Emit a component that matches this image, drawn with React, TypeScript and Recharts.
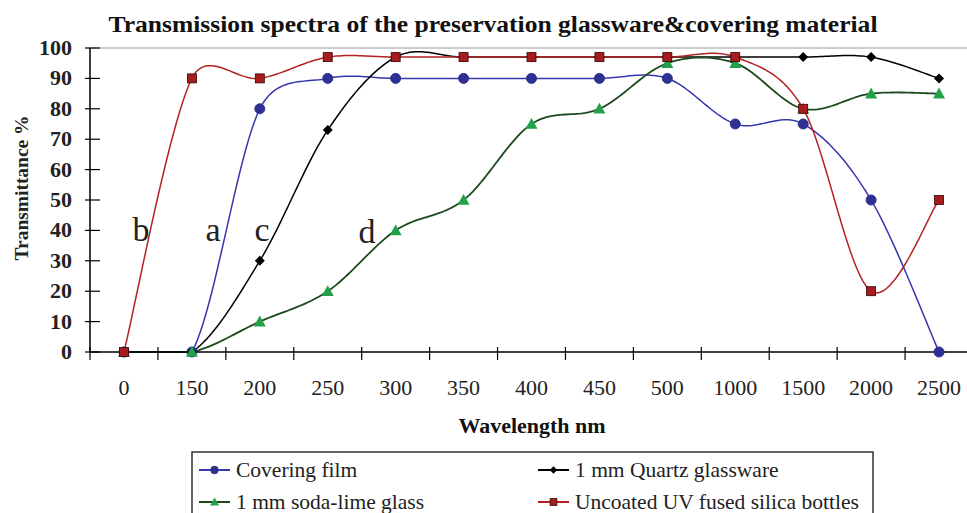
import React from 'react';
import { LineChart, Line, XAxis, YAxis, ReferenceLine } from 'recharts';

const wavelengths = ['0', '150', '200', '250', '300', '350', '400', '450', '500', '1000', '1500', '2000', '2500'];
const coveringFilm = [0, 0, 80, 90, 90, 90, 90, 90, 90, 75, 75, 50, 0];
const quartzGlass = [0, 0, 30, 73, 97, 97, 97, 97, 97, 97, 97, 97, 90];
const sodaLimeGlass = [0, 0, 10, 20, 40, 50, 75, 80, 95, 95, 80, 85, 85];
const silicaBottles = [0, 90, 90, 97, 97, 97, 97, 97, 97, 97, 80, 20, 50];
const yTicks = [0, 10, 20, 30, 40, 50, 60, 70, 80, 90, 100];

const curveLabels = [
  { text: 'b', x: 141, y: 241 },
  { text: 'a', x: 213, y: 241 },
  { text: 'c', x: 262, y: 241 },
  { text: 'd', x: 367, y: 243 },
];

const data = wavelengths.map((wl, i) => ({
  wl,
  film: coveringFilm[i],
  quartz: quartzGlass[i],
  soda: sodaLimeGlass[i],
  silica: silicaBottles[i],
}));

const SERIF = "'Liberation Serif', 'Times New Roman', serif";
const CHART_W = 973;
const CHART_H = 513;
const PLOT_LEFT = 90;
const PLOT_TOP = 48;
const PLOT_BOTTOM = 352;
const HALF_BAND = (CHART_W - PLOT_LEFT) / (2 * wavelengths.length);

const COLORS = {
  film: { line: '#3636B0', fill: '#2E3192' },
  quartz: { line: '#000000', fill: '#000000' },
  soda: { line: '#1C4A1C', fill: '#22A14A' },
  silica: { line: '#B22222', fill: '#A51D1D' },
};

const dist = (a: number[], b: number[]) => Math.hypot(a[0] - b[0], a[1] - b[1]);

// Excel-style smoothed line: Catmull-Rom bezier, control arm capped at half the
// segment length, and clipped to the plot area like Excel does
function excelSmooth(context: any) {
  let pts: [number, number][] = [];
  const clampY = (y: number) => Math.min(PLOT_BOTTOM, Math.max(PLOT_TOP, y));
  return {
    areaStart() {},
    areaEnd() {},
    lineStart() {
      pts = [];
    },
    point(x: number, y: number) {
      pts.push([+x, +y]);
    },
    lineEnd() {
      if (!pts.length) return;
      context.moveTo(pts[0][0], clampY(pts[0][1]));
      for (let i = 0; i < pts.length - 1; i++) {
        const p0 = pts[i - 1] || pts[i];
        const p1 = pts[i];
        const p2 = pts[i + 1];
        const p3 = pts[i + 2] || p2;
        const d12 = dist(p1, p2);
        const d02 = dist(p0, p2);
        const d13 = dist(p1, p3);
        const f0 = d02 / 6 < d12 / 2 ? 1 / 6 : d12 / (2 * d02);
        const f1 = d13 / 6 < d12 / 2 ? 1 / 6 : d12 / (2 * d13);
        const c1 = [p1[0] + (p2[0] - p0[0]) * f0, p1[1] + (p2[1] - p0[1]) * f0];
        const c2 = [p2[0] - (p3[0] - p1[0]) * f1, p2[1] - (p3[1] - p1[1]) * f1];
        const steps = 24;
        for (let k = 1; k <= steps; k++) {
          const t = k / steps;
          const u = 1 - t;
          const a = u * u * u;
          const b = 3 * u * u * t;
          const c = 3 * u * t * t;
          const d = t * t * t;
          const x = a * p1[0] + b * c1[0] + c * c2[0] + d * p2[0];
          const y = a * p1[1] + b * c1[1] + c * c2[1] + d * p2[1];
          context.lineTo(x, clampY(y));
        }
      }
    },
  };
}

function Marker({ kind, cx, cy, s = 1 }: { kind: string; cx: number; cy: number; s?: number }) {
  if (kind === 'film') {
    return <circle cx={cx} cy={cy} r={5 * s} fill={COLORS.film.fill} stroke={COLORS.film.fill} />;
  }
  if (kind === 'quartz') {
    const r = 5 * s;
    return <polygon points={`${cx},${cy - r} ${cx + r},${cy} ${cx},${cy + r} ${cx - r},${cy}`} fill="#000" />;
  }
  if (kind === 'soda') {
    const r = 6 * s;
    return (
      <polygon
        points={`${cx},${cy - r} ${cx + r},${cy + r * 0.8} ${cx - r},${cy + r * 0.8}`}
        fill={COLORS.soda.fill}
      />
    );
  }
  const r = 4.5 * s;
  return <rect x={cx - r} y={cy - r} width={2 * r} height={2 * r} fill={COLORS.silica.fill} stroke="#3a0000" strokeWidth={0.8} />;
}

function dotFor(kind: string) {
  // eslint-disable-next-line @typescript-eslint/no-explicit-any
  return (props: any) => {
    if (props.cx == null || props.cy == null) return <g key={`${kind}-${props.index}`} />;
    return (
      <g key={`${kind}-${props.index}`}>
        <Marker kind={kind} cx={props.cx} cy={props.cy} />
      </g>
    );
  };
}

// eslint-disable-next-line @typescript-eslint/no-explicit-any
function XTick({ x, y, payload, index }: any) {
  const last = index === wavelengths.length - 1;
  return (
    <g>
      <line x1={x - HALF_BAND} x2={x - HALF_BAND} y1={y - 5} y2={y + 8} stroke="#000" strokeWidth={1.2} />
      {last && <line x1={x + HALF_BAND} x2={x + HALF_BAND} y1={y - 5} y2={y + 8} stroke="#000" strokeWidth={1.2} />}
      <text x={x} y={y + 43} textAnchor="middle" fontSize={22} fontFamily={SERIF} fill="#222">
        {payload.value}
      </text>
    </g>
  );
}

// eslint-disable-next-line @typescript-eslint/no-explicit-any
function YTick({ x, y, payload }: any) {
  return (
    <g>
      <line x1={x - 5} x2={x + 10} y1={y} y2={y} stroke="#000" strokeWidth={1.2} />
      <text x={x - 18} y={y + 7} textAnchor="end" fontSize={22} fontWeight="bold" fontFamily={SERIF} fill="#222">
        {payload.value}
      </text>
    </g>
  );
}

const legendItems = [
  { kind: 'film', label: 'Covering film', x: 199, y: 470 },
  { kind: 'quartz', label: '1 mm Quartz glassware', x: 538, y: 470 },
  { kind: 'soda', label: '1 mm soda-lime glass', x: 199, y: 502 },
  { kind: 'silica', label: 'Uncoated UV fused silica bottles', x: 538, y: 502 },
];

export default function App() {
  return (
    <div style={{ position: 'absolute', left: 0, top: 0, width: 967, height: 513, overflow: 'hidden', background: '#fff' }}>
      <LineChart width={CHART_W} height={CHART_H} data={data} margin={{ top: PLOT_TOP, right: 0, bottom: 121, left: 0 }}>
        <ReferenceLine y={100} stroke="#9a9a9a" strokeWidth={1.2} />
        <XAxis
          dataKey="wl"
          interval={0}
          height={40}
          padding={{ left: HALF_BAND, right: HALF_BAND }}
          tickLine={false}
          tickSize={0}
          tickMargin={0}
          tick={<XTick />}
          axisLine={{ stroke: '#000', strokeWidth: 1.5 }}
        />
        <YAxis
          width={PLOT_LEFT}
          domain={[0, 100]}
          ticks={yTicks}
          interval={0}
          tickLine={false}
          tickSize={0}
          tickMargin={0}
          tick={<YTick />}
          axisLine={{ stroke: '#000', strokeWidth: 1.5 }}
        />
        <Line dataKey="film" type={excelSmooth as any} stroke={COLORS.film.line} strokeWidth={1.5} dot={dotFor('film')} isAnimationActive={false} />
        <Line dataKey="quartz" type={excelSmooth as any} stroke={COLORS.quartz.line} strokeWidth={1.5} dot={dotFor('quartz')} isAnimationActive={false} />
        <Line dataKey="soda" type={excelSmooth as any} stroke={COLORS.soda.line} strokeWidth={1.8} dot={dotFor('soda')} isAnimationActive={false} />
        <Line dataKey="silica" type={excelSmooth as any} stroke={COLORS.silica.line} strokeWidth={1.5} dot={dotFor('silica')} isAnimationActive={false} />
      </LineChart>

      <svg width={967} height={513} style={{ position: 'absolute', left: 0, top: 0, pointerEvents: 'none' }}>
        <text x={493} y={32} textAnchor="middle" fontSize={24} fontWeight="bold" fontFamily={SERIF} fill="#111" textLength={769} lengthAdjust="spacingAndGlyphs">
          Transmission spectra of the preservation glassware&amp;covering material
        </text>
        <text
          transform="translate(28, 188) rotate(-90)"
          textAnchor="middle"
          fontSize={19}
          fontWeight="bold"
          fontFamily={SERIF}
          fill="#222"
          textLength={145}
          lengthAdjust="spacingAndGlyphs"
        >
          Transmittance %
        </text>
        <text x={532} y={433} textAnchor="middle" fontSize={20} fontWeight="bold" fontFamily={SERIF} fill="#111" textLength={147} lengthAdjust="spacingAndGlyphs">
          Wavelength nm
        </text>
        {curveLabels.map((l) => (
          <text key={l.text} x={l.x} y={l.y} textAnchor="middle" fontSize={34} fontFamily={SERIF} fill="#222">
            {l.text}
          </text>
        ))}

        <rect x={192} y={452} width={681} height={70} fill="#fff" stroke="#333" strokeWidth={1.5} />
        {legendItems.map((item) => {
          const c = COLORS[item.kind as keyof typeof COLORS];
          return (
            <g key={item.kind}>
              <line x1={item.x} x2={item.x + 31} y1={item.y} y2={item.y} stroke={c.line} strokeWidth={2} />
              <Marker kind={item.kind} cx={item.x + 15.5} cy={item.y} s={0.75} />
              <text x={item.x + 37} y={item.y + 7} fontSize={21.5} fontFamily={SERIF} fill="#222">
                {item.label}
              </text>
            </g>
          );
        })}
      </svg>
    </div>
  );
}
